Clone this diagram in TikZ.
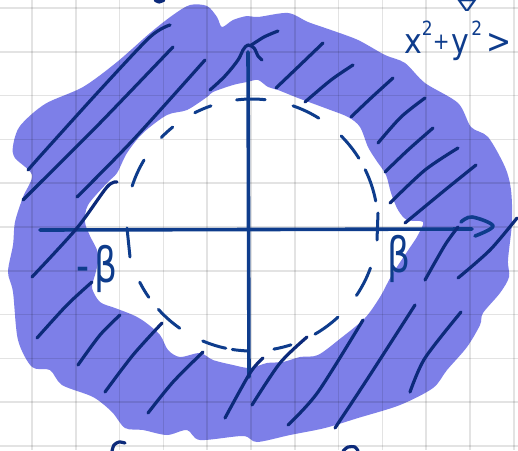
\documentclass[tikz,border=0pt]{standalone}
\usepackage{fontspec}
\newfontfamily\hand{DejaVu Sans}
\definecolor{band}{RGB}{125,127,232}
\definecolor{ink}{RGB}{12,42,122}
\definecolor{axisc}{RGB}{14,60,140}
\begin{document}
\begin{tikzpicture}[x=1pt,y=-1pt,
  gridline/.style={black,opacity=0.11,line width=1.5pt},
  hatch/.style={ink,line width=3.2pt,line cap=round,line join=round},
  axisline/.style={axisc,line width=3.6pt,line cap=round,line join=round},
  dashpart/.style={axisc,line width=3pt,line cap=round},
  lbl/.style={text=axisc,inner sep=0pt}]
\useasboundingbox (0,0) rectangle (518,450);
\fill[white] (0,0) rectangle (518,450);
% band
\fill[band,even odd rule]
  plot[smooth cycle,tension=0.5] coordinates {(13,146) (20,126) (45,104) (83,87) (117,62) (150,33) (173,15) (190,5) (207,6) (217,17) (222,27) (233,20) (247,16) (258,17) (288,13) (308,22) (331,30) (358,40) (385,55) (405,63) (425,83) (458,103) (471,127) (488,137) (505,167) (511,190) (512,222) (508,260) (509,277) (500,293) (483,313) (480,325) (467,347) (447,370) (433,388) (400,405) (358,418) (325,428) (290,435) (257,442) (243,436) (200,440) (187,430) (167,435) (143,430) (125,428) (112,412) (93,397) (62,385) (50,370) (32,367) (18,340) (13,292) (8,272) (13,245) (15,222) (23,197) (32,175) (15,158)}
  plot[smooth cycle,tension=0.5] coordinates {(85,222) (88,205) (107,183) (117,173) (127,153) (143,133) (167,115) (187,110) (207,97) (213,92) (233,85) (247,82) (258,80) (268,87) (278,90) (298,98) (325,108) (348,117) (360,127) (368,147) (376,160) (386,175) (391,193) (398,210) (407,220) (423,222) (418,235) (413,243) (393,273) (380,297) (365,318) (341,338) (318,355) (300,357) (283,362) (267,363) (250,368) (233,365) (213,360) (200,353) (180,357) (168,350) (160,335) (145,322) (133,315) (115,308) (100,302) (92,288) (95,275) (98,262) (97,250) (90,236)};
% grid
\foreach \i in {0,...,11} \draw[gridline] ({32+43.8*\i},0) -- ++(0,450);
\foreach \j in {0,...,10} \draw[gridline] (0,{8+43.8*\j}) -- ++(518,0);
% dashed circle
\coordinate (c) at (252,225);
\foreach \a/\b in {-84/-97,-58/-71,-32/-45,-11/-26,34/20,60/47,80/72,99/92,113/102,138/125,153/145,-149/-162,-129/-136,-109/-117}
  \draw[dashpart] (c) ++(\a:126) arc[start angle=\a,end angle=\b,radius=126];
\coordinate (tr1) at (378,213); \coordinate (tr2) at (377,240);
\coordinate (tl1) at (127,228); \coordinate (tl2) at (130,257);
\draw[dashpart] (tr1) -- (tr2);
\draw[dashpart] (tl1) -- (tl2);
% axes
\coordinate (xa) at (40,230); \coordinate (xb) at (472,229);
\coordinate (ya) at (248,52); \coordinate (yb) at (249,377);
\draw[axisline] (xa) -- (xb);
\draw[axisline] (ya) -- (yb);
\draw[axisline] plot[smooth,tension=0.6] coordinates {(461,222) (472,217) (493,226) (475,236)};
% hatches
\draw[hatch] plot[smooth] coordinates {(28,170) (43,153) (100,90) (150,37) (170,25)};
\draw[hatch] plot[smooth] coordinates {(23,200) (40,183) (100,123) (173,47)};
\draw[hatch] plot[smooth] coordinates {(77,197) (133,140) (205,60)};
\draw[hatch] plot[smooth] coordinates {(32,277) (77,228) (107,187) (117,182)};
\draw[hatch] plot[smooth,tension=0.6] coordinates {(210,90) (225,76) (238,60) (243,50) (248,45) (254,48) (258,56) (262,60)};
\draw[hatch] plot[smooth] coordinates {(250,46) (264,37) (278,31)};
\draw[hatch] plot[smooth] coordinates {(276,88) (298,67) (323,43)};
\draw[hatch] plot[smooth] coordinates {(305,102) (331,80) (353,65)};
\draw[hatch] plot[smooth] coordinates {(351,117) (371,98) (393,78)};
\draw[hatch] plot[smooth] coordinates {(378,143) (401,117) (425,98)};
\draw[hatch] plot[smooth] coordinates {(385,172) (408,150) (433,128)};
\draw[hatch] plot[smooth] coordinates {(390,203) (425,170) (458,148)};
\draw[hatch] plot[smooth] coordinates {(405,223) (445,190) (476,165)};
\draw[hatch] plot[smooth] coordinates {(425,280) (445,245) (458,227)};
\draw[hatch] plot[smooth] coordinates {(458,278) (490,250) (517,218)};
\draw[hatch] plot[smooth] coordinates {(410,392) (425,358) (461,312)};
\draw[hatch] plot[smooth] coordinates {(335,428) (368,378) (415,305)};
\draw[hatch] plot[smooth] coordinates {(288,425) (318,392) (363,320)};
\draw[hatch] plot[smooth] coordinates {(252,405) (280,363) (307,337)};
\draw[hatch] plot[smooth] coordinates {(225,418) (250,373) (263,358)};
\draw[hatch] plot[smooth] coordinates {(148,413) (173,382) (203,352)};
\draw[hatch] plot[smooth] coordinates {(105,392) (133,355) (162,323)};
\draw[hatch] plot[smooth] coordinates {(78,365) (100,335) (120,315)};
\draw[hatch] plot[smooth] coordinates {(37,338) (67,305) (92,282)};
% cut-off marks at the edges
\draw[hatch] plot[smooth] coordinates {(155,0) (159,2) (164,0)};
\draw[hatch] plot[smooth] coordinates {(112,451) (114,445) (119,442) (125,443)};
\draw[hatch] plot[smooth] coordinates {(343,451) (348,447) (355,447) (358,451)};
% labels
\node[lbl,anchor=base west] (mbeta) at (76,282) {\hand\fontsize{36}{36}\selectfont\scalebox{1}[1.35]{-\kern5pt β}};
\node[lbl,anchor=base west] (pbeta) at (387,272) {\hand\fontsize{36}{36}\selectfont\scalebox{1}[1.35]{β}};
\node[lbl,anchor=base west] (ineq) at (404,53) {\hand\scalebox{1}[1.15]{\fontsize{30}{30}\selectfont x\raisebox{15pt}{\fontsize{17}{17}\selectfont 2}\raisebox{3pt}{\fontsize{20}{20}\selectfont +}\kern2pt y\kern2pt\raisebox{15pt}{\fontsize{17}{17}\selectfont 2}\kern4pt >}};
\node[lbl,anchor=south] (nabla) at (467,12) {\hand\fontsize{28}{28}\selectfont\scalebox{1}[0.55]{∇}};
\end{tikzpicture}
\end{document}
